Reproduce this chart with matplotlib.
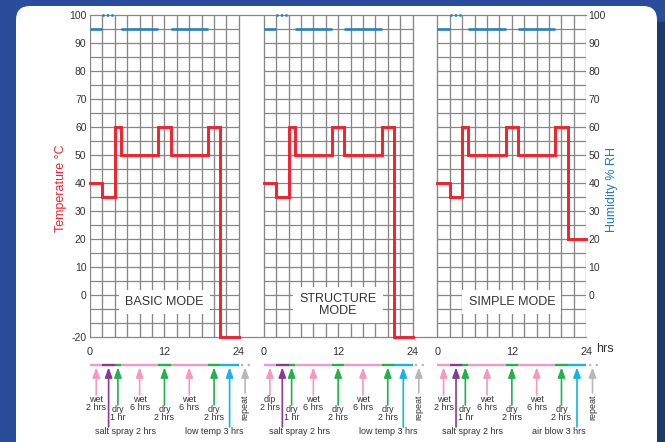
import numpy as np
import matplotlib
matplotlib.use('Agg')
import matplotlib.pyplot as plt
from matplotlib.patches import FancyBboxPatch, Rectangle

plt.rcParams['font.family'] = ['Liberation Sans', 'DejaVu Sans']

# ---------------- data ----------------
modes = ['BASIC MODE', 'STRUCTURE\nMODE', 'SIMPLE MODE']
step_hours = [2, 2, 1, 6, 2, 6, 2, 3]
step_kinds = ['wet', 'salt', 'dry', 'wet', 'dry', 'wet', 'dry', 'cold']
temp_basic = [40, 35, 60, 50, 60, 50, 60, -20]
temp_structure = [40, 35, 60, 50, 60, 50, 60, -20]
temp_simple = [40, 35, 60, 50, 60, 50, 60, 20]
humidity = [95, 100, np.nan, 95, np.nan, 95, np.nan, np.nan]
names_basic = ['wet', 'salt spray', 'dry', 'wet', 'dry', 'wet', 'dry', 'low temp']
names_structure = ['dip', 'salt spray', 'dry', 'wet', 'dry', 'wet', 'dry', 'low temp']
names_simple = ['wet', 'salt spray', 'dry', 'wet', 'dry', 'wet', 'dry', 'air blow']
temp_ticks = [-20, 0, 10, 20, 30, 40, 50, 60, 70, 80, 90, 100]
rh_ticks = [0, 10, 20, 30, 40, 50, 60, 70, 80, 90, 100]
hour_ticks = [0, 12, 24]

temps = [temp_basic, temp_structure, temp_simple]
names = [names_basic, names_structure, names_simple]

# ---------------- styling ----------------
RED = '#f2212c'
BLUE = '#1b7dc3'
GRID = '#878787'
TXT = '#333333'
kind_color = {'wet': '#f49ac1', 'salt': '#8b3a94', 'dry': '#22b24c',
              'cold': '#14b4ea'}
REPEAT = '#b8b8b8'
panel_starts = [0, 28, 56]
cycle = 24


def fwd(y):
    y = np.asarray(y, dtype=float)
    return np.where(y < 0, 0.75 * y, y)


def inv(y):
    y = np.asarray(y, dtype=float)
    return np.where(y < 0, y / 0.75, y)


W, H = 665, 442
fig = plt.figure(figsize=(W / 100, H / 100), dpi=100)

# background frame
bg = fig.add_axes([0, 0, 1, 1], zorder=-10)
bg.set_xlim(0, W)
bg.set_ylim(H, 0)
bg.axis('off')
bg.add_patch(Rectangle((0, 0), W, H, color='#2a4d9b', zorder=0))
bg.add_patch(Rectangle((645, 22), 20, H, color='#1b3a6c', zorder=0.5))
bg.add_patch(FancyBboxPatch((16, 6), 641, 452,
                            boxstyle='round,pad=0,rounding_size=14',
                            fc='white', ec='none', zorder=1))

# main chart
ax = fig.add_axes([90 / W, 105 / H, 496.3 / W, 322 / H])
ax.set_yscale('function', functions=(fwd, inv))
ax.set_xlim(0, panel_starts[-1] + cycle)
ax.set_ylim(-20, 100)
for sp in ['left', 'right']:
    ax.spines[sp].set_visible(False)
for sp in ['top', 'bottom']:
    ax.spines[sp].set_color(GRID)
    ax.spines[sp].set_linewidth(0.9)

edges = np.concatenate([[0], np.cumsum(step_hours)])
below_rows = [-20 / 3, -40 / 3]
for p, s in enumerate(panel_starts):
    ax.vlines(s + np.arange(0, cycle + 1, 2), -20, 100, color=GRID, lw=0.95, zorder=1)
    ax.hlines(list(range(0, 100, 5)) + below_rows, s, s + cycle, color=GRID,
              lw=0.9, zorder=1)
    t = temps[p]
    ax.plot(s + edges, list(t) + [t[-1]], drawstyle='steps-post', color=RED,
            lw=2.1, zorder=4, clip_on=False, solid_joinstyle='miter')
    for i, v in enumerate(humidity):
        if np.isnan(v):
            continue
        ls = (0, (0.8, 1.0)) if step_kinds[i] == 'salt' else '-'
        ax.hlines(v, s + edges[i], s + edges[i + 1], color=BLUE, lw=1.8,
                  linestyles=[ls], zorder=5, clip_on=False)
    ax.text(s + cycle / 2, -4.8 if '\n' in modes[p] else -3.3, modes[p],
            ha='center', va='center', fontsize=9, color=TXT, linespacing=0.95,
            zorder=6,
            bbox=dict(boxstyle='square,pad=0.5', fc='white', ec='none'))

xt = [s + h for s in panel_starts for h in hour_ticks]
ax.set_xticks(xt)
ax.set_xticklabels([str(h) for s in panel_starts for h in hour_ticks])
ax.tick_params(axis='x', length=0, pad=7.5, labelsize=7.8, colors=TXT)
ax.set_yticks(temp_ticks)
ax.set_yticklabels([str(v) for v in temp_ticks])
ax.yaxis.set_minor_locator(matplotlib.ticker.NullLocator())
ax.tick_params(axis='y', length=0, pad=2.5, labelsize=7.5, colors=TXT)

ax2 = ax.twinx()
ax2.set_yscale('function', functions=(fwd, inv))
ax2.set_ylim(-20, 100)
ax2.set_yticks(rh_ticks)
ax2.set_yticklabels([str(v) for v in rh_ticks])
ax2.yaxis.set_minor_locator(matplotlib.ticker.NullLocator())
ax2.tick_params(axis='y', length=0, pad=1.5, labelsize=7.5, colors=TXT)
for sp in ax2.spines.values():
    sp.set_visible(False)

bg.text(596, 349, 'hrs', ha='left', va='center', fontsize=9, color=TXT)
bg.text(61, 188, 'Temperature °C', rotation=90, ha='center', va='center',
        fontsize=9, color=RED)
bg.text(612, 190, 'Humidity % RH', rotation=90, ha='center', va='center',
        fontsize=9, color=BLUE)

# timeline with arrows
tl = fig.add_axes([90 / W, 0, 496.3 / W, 100 / H])
tl.set_xlim(0, panel_starts[-1] + cycle)
tl.set_ylim(442, 342)
tl.axis('off')
tl.patch.set_alpha(0)

LINE_Y = 364.5
TIP = 367.3
FS = 6.5
arrow_style = '-|>,head_length=0.6,head_width=0.22'
long_label_x = {'salt': 5.7, 'cold': 20.0}
for p, s in enumerate(panel_starts):
    for i, kind in enumerate(step_kinds):
        x0, x1 = s + edges[i], s + edges[i + 1]
        tl.hlines(LINE_Y, x0, x1, color=kind_color[kind], lw=1.7, clip_on=False)
        xm = (x0 + x1) / 2
        h = step_hours[i]
        hrs = f"{h} hr" if h == 1 else f"{h} hrs"
        if kind == 'wet':
            tail, ly = 395, 395.5
        elif kind == 'dry':
            tail, ly = 405, 405.5
        else:
            tail, ly = 427, 426.5
        tl.annotate('', xy=(xm, TIP), xytext=(xm, tail),
                    arrowprops=dict(arrowstyle=arrow_style, color=kind_color[kind],
                                    lw=1.2, mutation_scale=10, shrinkA=0, shrinkB=0),
                    annotation_clip=False)
        if kind in ('wet', 'dry'):
            tl.text(xm, ly, f"{names[p][i]}\n{hrs}", ha='center', va='top',
                    fontsize=FS, color=TXT, linespacing=0.85, clip_on=False)
        else:
            lx = s + long_label_x[kind] - (0.4 if names[p][i] == 'air blow' else 0)
            tl.text(lx, ly, f"{names[p][i]} {hrs}", ha='center', va='top',
                    fontsize=FS, color=TXT, clip_on=False)
    # repeat marker
    tl.plot([s + cycle + 0.4, s + cycle + 2.4], [LINE_Y, LINE_Y], color=REPEAT,
            lw=1.6, linestyle=(0, (1, 2)), clip_on=False)
    tl.annotate('', xy=(s + cycle + 1, TIP), xytext=(s + cycle + 1, 393),
                arrowprops=dict(arrowstyle=arrow_style, color=REPEAT, lw=1.2,
                                mutation_scale=10, shrinkA=0, shrinkB=0),
                annotation_clip=False)
    tl.text(s + cycle + 1, 395, 'repeat', rotation=90, ha='center', va='top',
            fontsize=FS, color=TXT, clip_on=False)

fig.savefig('out.png', dpi=100)
